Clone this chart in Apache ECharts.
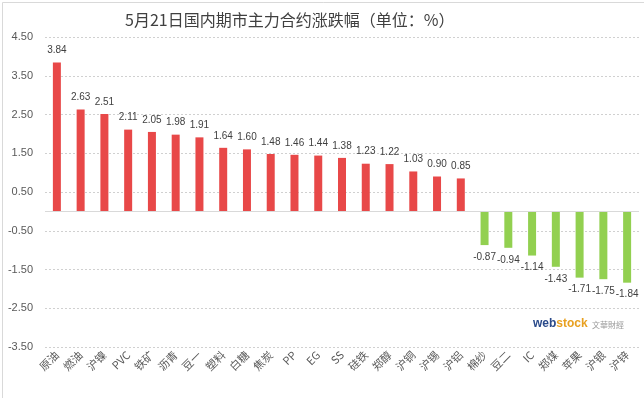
<!DOCTYPE html>
<html><head><meta charset="utf-8">
<script src="https://cdn.jsdelivr.net/npm/echarts@6/dist/echarts.min.js"></script>
<style>html,body{margin:0;padding:0;background:#fff}#c{width:644px;height:398px}</style>
</head><body><div id="c"></div>
<script>
const categories = ['原油','燃油','沪镍','PVC','铁矿','沥青','豆一','塑料','白糖','焦炭','PP','EG','SS','硅铁','郑醇','沪铜','沪锡','沪铝','棉纱','豆二','IC','郑煤','苹果','沪银','沪锌'];
const values = [3.84,2.63,2.51,2.11,2.05,1.98,1.91,1.64,1.60,1.48,1.46,1.44,1.38,1.23,1.22,1.03,0.90,0.85,-0.87,-0.94,-1.14,-1.43,-1.71,-1.75,-1.84];
const yTicks = {min:-3.5, max:4.5, step:1};
const titleText = '5月21日国内期市主力合约涨跌幅（单位：%）';
</script>
<script>
const chart = echarts.init(document.getElementById('c'), null, {renderer:'canvas'});
chart.setOption({
  animation:false,
  backgroundColor:'#fff',
  title:{text:titleText,left:120,top:7,textStyle:{fontFamily:'Noto Sans CJK SC',fontSize:16,fontWeight:'normal',color:'#404040'}},
  grid:{left:45,right:5,top:37,bottom:51,containLabel:false,outerBoundsMode:'none'},
  xAxis:{type:'category',data:categories,
    axisLine:{show:false},axisTick:{show:false},
    axisLabel:{rotate:45,interval:0,fontSize:11,color:'#595959',fontFamily:'Noto Sans CJK SC',margin:6}},
  yAxis:{type:'value',min:yTicks.min,max:yTicks.max,interval:yTicks.step,
    axisLine:{show:false},axisTick:{show:false},
    axisLabel:{formatter:v=>v.toFixed(2),fontSize:11,color:'#595959',fontFamily:'Liberation Sans',margin:12},
    splitLine:{lineStyle:{type:[2,2],color:'#d0d0d0'}}},
  series:[{type:'bar',data:values.map(v=>({value:v,itemStyle:{color:v>=0?'#e84848':'#92d050'},
      label:{show:true,position:v>=0?'top':'bottom',distance:7,formatter:p=>p.value.toFixed(2),fontSize:10,color:'#404040',fontFamily:'Liberation Sans'}})),
    barWidth:8,
    markLine:{silent:true,symbol:'none',label:{show:false},lineStyle:{type:'solid',color:'#d9d9d9',width:1},data:[{yAxis:0}]}
  }],
  graphic:[{type:'rect',left:0,top:0,shape:{width:643,height:397},style:{fill:'none',stroke:'#d9d9d9',lineWidth:1}},
    {type:'text',left:533,top:318,style:{rich:{a:{fontSize:12,fontWeight:'bold',fill:'#2a4a8a',fontFamily:'Liberation Sans'},b:{fontSize:12,fontWeight:'bold',fill:'#e8a020',fontFamily:'Liberation Sans'}},text:'{a|web}{b|stock}'}},
    {type:'text',left:592,top:321,style:{text:'文華財經',fontSize:8,fill:'#999',fontFamily:'Noto Sans CJK TC'}}]
});
</script></body></html>
